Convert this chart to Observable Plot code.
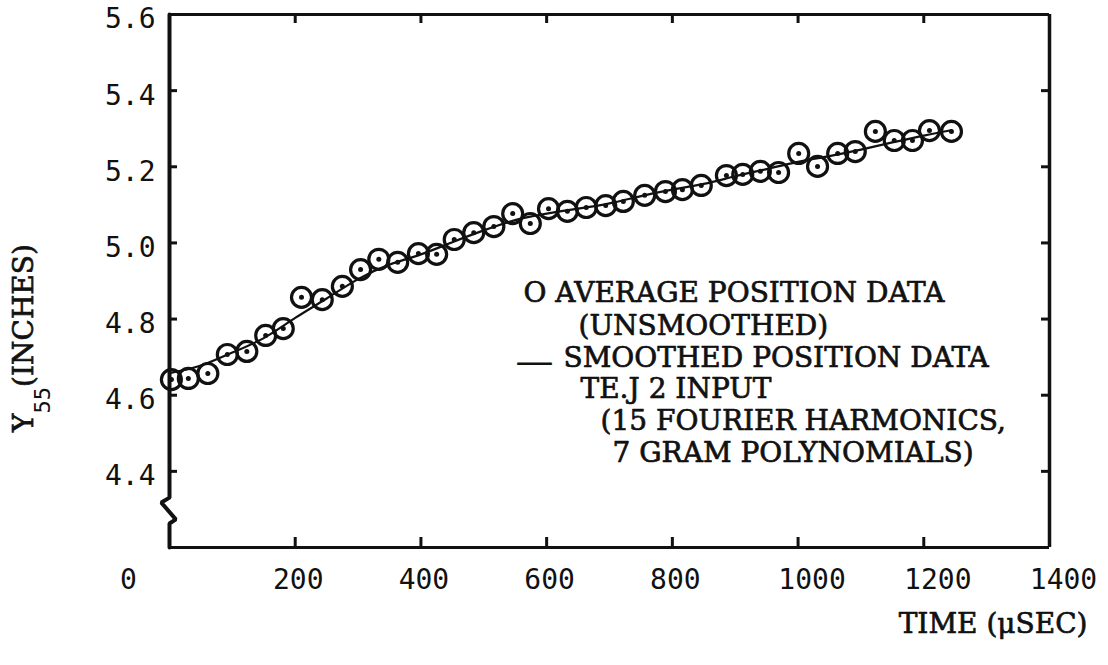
<!DOCTYPE html>
<html><head><meta charset="utf-8">
<script src="https://cdn.jsdelivr.net/npm/d3@7"></script>
<script src="https://cdn.jsdelivr.net/npm/@observablehq/plot@0.6"></script>
<style>
html,body{margin:0;padding:0;background:#fff;}
#chart svg{display:block;}
</style></head><body><div id="chart"></div>
<script>
// Average position data (unsmoothed): time (µsec) and Y55 (inches)
const avgTime = [3, 30, 61, 92, 123, 153, 181, 210, 243, 275, 304, 333, 363, 396, 425, 453,
  484, 516, 546, 574, 603, 633, 663, 694, 722, 756, 789, 816, 846, 886, 912, 940, 969,
  1001, 1031, 1063, 1091, 1123, 1153, 1182, 1209, 1244];
const avgPos = [4.641, 4.644, 4.657, 4.707, 4.715, 4.757, 4.775, 4.857, 4.851, 4.886, 4.930,
  4.957, 4.949, 4.972, 4.970, 5.009, 5.027, 5.043, 5.077, 5.051, 5.090, 5.083, 5.093, 5.098,
  5.109, 5.125, 5.135, 5.140, 5.151, 5.177, 5.180, 5.188, 5.185, 5.235, 5.201, 5.235, 5.240,
  5.293, 5.269, 5.269, 5.295, 5.293];
// Smoothed position data (TEJ 2 input)
const smoothTime = [0, 50, 100, 150, 200, 250, 300, 350, 400, 450, 500, 550, 600, 650, 700,
  750, 800, 850, 900, 950, 1000, 1050, 1100, 1150, 1200, 1244];
const smoothPos = [4.658, 4.678, 4.712, 4.750, 4.803, 4.854, 4.905, 4.943, 4.970, 5.002, 5.033,
  5.060, 5.077, 5.090, 5.104, 5.123, 5.140, 5.155, 5.175, 5.194, 5.213, 5.228, 5.245, 5.264,
  5.282, 5.296];
// Axis ticks
const xTicks = [0, 200, 400, 600, 800, 1000, 1200, 1400];
const yTicks = [4.4, 4.6, 4.8, 5.0, 5.2, 5.4, 5.6];
// Broken left axis (zig-zag break below 4.4)
const breakTime = [0, 0, -13, 10, 0, 0];
const breakPos = [5.6, 4.331, 4.318, 4.274, 4.263, 4.2];
// Texts
const legendLines = ["O AVERAGE POSITION DATA", "(UNSMOOTHED)", "SMOOTHED POSITION DATA",
  "TE.J 2 INPUT", "(15 FOURIER HARMONICS,", "7 GRAM POLYNOMIALS)"];
const legendDash = "—";
const xTitle = "TIME (μSEC)";
const yTitleParts = ["Y", "55", "(INCHES)"];

const avg = avgTime.map((t, i) => ({t, v: avgPos[i]}));
const smooth = smoothTime.map((t, i) => ({t, v: smoothPos[i]}));
const brk = breakTime.map((t, i) => ({t, v: breakPos[i]}));

const W = 1108, H = 665, mL = 169, mR = 59, mT = 14, mB = 118;
const fw = W - mL - mR, fh = H - mT - mB;
const serif = "DejaVu Serif";
const mono = "DejaVu Sans Mono";
const ink = "#111";
const heavy = {stroke: ink, strokeWidth: 0.7};

const legendText = (txt, dx, dy, extra = {}) => Plot.text([txt], {
  frameAnchor: "top-left", dx, dy, textAnchor: "start", fontSize: 28,
  fontFamily: serif, fill: ink, ...heavy, ...extra
});

const chart = Plot.plot({
  width: W, height: H,
  marginLeft: mL, marginRight: mR, marginTop: mT, marginBottom: mB,
  x: {domain: [0, 1400], label: null},
  y: {domain: [4.2, 5.6], label: null},
  style: {background: "#fff", color: ink, overflow: "visible"},
  marks: [
    // frame (top, bottom, right) and broken left axis
    Plot.ruleY([5.6, 4.2], {stroke: ink, strokeWidth: 3}),
    Plot.ruleX([1400], {stroke: ink, strokeWidth: 3.5}),
    Plot.line(brk, {x: "t", y: "v", stroke: ink, strokeWidth: 4, strokeLinejoin: "miter", curve: "linear"}),
    // inward ticks on all four sides
    Plot.tickX(xTicks.filter(d => d > 0 && d < 1400), {stroke: ink, strokeWidth: 3, insetTop: fh - 10}),
    Plot.tickX(xTicks.filter(d => d > 0 && d < 1400), {stroke: ink, strokeWidth: 3, insetBottom: fh - 9}),
    Plot.tickY(yTicks.filter(d => d < 5.6), {stroke: ink, strokeWidth: 3, insetRight: fw - 8}),
    Plot.tickY(yTicks.filter(d => d < 5.6), {stroke: ink, strokeWidth: 3, insetLeft: fw - 8}),
    // tick labels
    Plot.axisY(yTicks, {anchor: "left", label: null, tickSize: 0, tickPadding: 14, dy: 5, fontSize: 28,
      fontFamily: mono, tickFormat: d => d.toFixed(1), fill: ink}),
    Plot.axisX([0], {anchor: "bottom", label: null, tickSize: 0, tickPadding: 22, dx: -41, fontSize: 28,
      fontFamily: mono, tickFormat: d => String(d), fill: ink}),
    Plot.axisX([200, 400, 600, 800], {anchor: "bottom", label: null, tickSize: 0, tickPadding: 22, dx: 3,
      fontSize: 28, fontFamily: mono, tickFormat: d => String(d), fill: ink}),
    Plot.axisX([1000, 1200, 1400], {anchor: "bottom", label: null, tickSize: 0, tickPadding: 22, dx: 14,
      fontSize: 28, fontFamily: mono, tickFormat: d => String(d), fill: ink}),
    // smoothed curve
    Plot.line(smooth, {x: "t", y: "v", curve: "natural", stroke: ink, strokeWidth: 2.2}),
    // data circles with centre dots
    Plot.dot(avg, {x: "t", y: "v", r: 10, stroke: ink, strokeWidth: 3.2, fill: "none"}),
    Plot.dot(avg, {x: "t", y: "v", r: 2.5, fill: ink, stroke: "none"}),
    // axis titles
    Plot.text([xTitle], {frameAnchor: "bottom-right", dx: 38, dy: 85, textAnchor: "end",
      fontSize: 28, fontFamily: serif, fill: ink, ...heavy}),
    Plot.text([yTitleParts.join("")], {frameAnchor: "left", rotate: -90, dx: -145, dy: 151,
      textAnchor: "start", fontSize: 28, fontFamily: serif, fill: ink, ...heavy, className: "ytitle"}),
    // legend
    legendText(legendLines[0], 354, 268),
    legendText(legendLines[1], 409, 301),
    legendText(legendDash, 346, 333, {fontSize: 38, strokeWidth: 0}),
    legendText(legendLines[2], 394, 333),
    legendText(legendLines[3], 411, 364),
    legendText(legendLines[4], 431, 396),
    legendText(legendLines[5], 443, 428)
  ]
});

// rich y title: Y with subscript 55
const yt = chart.querySelector(".ytitle text");
if (yt) {
  const ns = "http://www.w3.org/2000/svg";
  yt.textContent = "";
  const a = document.createElementNS(ns, "tspan"); a.textContent = yTitleParts[0];
  const b = document.createElementNS(ns, "tspan"); b.textContent = yTitleParts[1];
  b.setAttribute("dy", "17"); b.setAttribute("font-size", "22"); b.setAttribute("font-family", mono);
  b.setAttribute("stroke-width", "0");
  const c = document.createElementNS(ns, "tspan"); c.textContent = yTitleParts[2];
  c.setAttribute("dy", "-17");
  yt.append(a, b, c);
}
document.getElementById("chart").append(chart);
</script>
</body></html>
